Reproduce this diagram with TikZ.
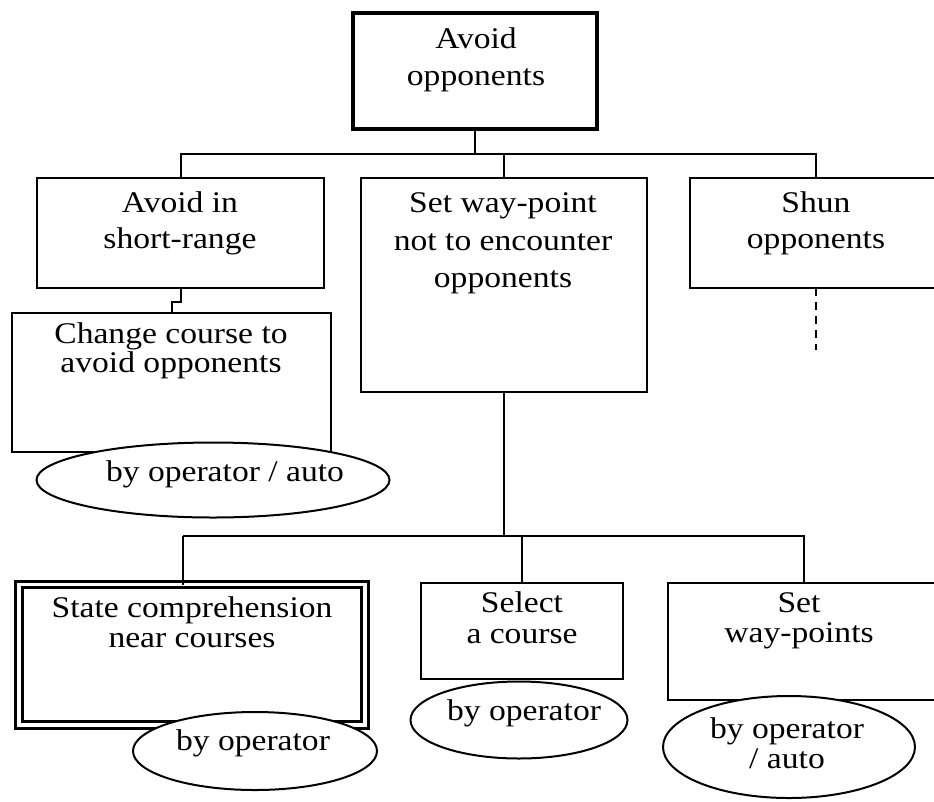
\documentclass[tikz,border=0pt]{standalone}
\usepackage{fontspec}
\setmainfont[FakeStretch=1.12]{Liberation Serif}
\usetikzlibrary{shapes.geometric}
\begin{document}
\begin{tikzpicture}[x=1pt,y=-1pt,
  box/.style={draw, line width=2pt, inner sep=0pt, outer sep=0pt, anchor=north west, fill=white},
  oval/.style={ellipse, draw, line width=2pt, fill=white, inner sep=0pt, outer sep=0pt},
  txt/.style={anchor=base, inner sep=0pt, font=\fontsize{30}{37}\selectfont},
  link/.style={line width=2pt}]
\useasboundingbox (0,0) rectangle (934,801);

% boxes
\node[box, line width=4.5pt, minimum width=244pt, minimum height=116pt] (top) at (353,13) {};
\node[box, minimum width=287pt, minimum height=110pt] (short) at (37,178) {};
\node[box, minimum width=286pt, minimum height=214pt] (way) at (361,178) {};
\node[box, minimum width=252pt, minimum height=110pt] (shun) at (690,178) {};
\node[box, minimum width=319pt, minimum height=139pt] (change) at (12,313) {};
\node[box, line width=3pt, double=white, double distance=3.3pt, minimum width=346pt, minimum height=140.5pt] (state) at (19,584.5) {};
\node[box, minimum width=202pt, minimum height=96pt] (sel) at (421,583) {};
\node[box, minimum width=272pt, minimum height=117pt] (wp) at (668,583) {};

% connectors
\coordinate (bus1) at (0,154);
\coordinate (bus2) at (183,536);
\draw[link] (top.south) -- (top.south |- bus1);
\draw[link] (short.north) -- (short.north |- bus1) -| (shun.north);
\draw[link] (way.north) -- (way.north |- bus1);
\draw[link] (short.south) -- ++(0,14) -| (change.north);
\draw[link, dash pattern=on 8pt off 6pt] (shun.south) -- ++(0,62);
\draw[link] (way.south) -- (way.south |- bus2);
\draw[link] (bus2) -- (bus2 |- state.north);
\draw[link] (bus2) -| (wp.north);
\draw[link] (sel.north) -- (sel.north |- bus2);

% ovals
\node[oval, minimum width=353pt, minimum height=75pt] (e1) at (213,480) {};
\node[oval, minimum width=244pt, minimum height=78pt] (e2) at (255,751) {};
\node[oval, minimum width=217pt, minimum height=77pt] (e3) at (519,720) {};
\node[oval, minimum width=252pt, minimum height=102pt] (e4) at (789,747) {};

% texts
\node[txt] (t1a) at (476,48) {Avoid};
\node[txt] (t1b) at (476,85) {opponents};
\node[txt] (t2a) at (180,212) {Avoid in};
\node[txt] (t2b) at (180,248) {short-range};
\node[txt] (t3a) at (503,212) {Set way-point};
\node[txt] (t3b) at (503,250) {not to encounter};
\node[txt] (t3c) at (503,287) {opponents};
\node[txt] (t4a) at (816,212) {Shun};
\node[txt] (t4b) at (816,248) {opponents};
\node[txt] (t5a) at (171,343) {Change course to};
\node[txt] (t5b) at (171,372) {avoid opponents};
\node[txt] (t6) at (225,481) {by operator / auto};
\node[txt] (t7a) at (192,617) {State comprehension};
\node[txt] (t7b) at (192,647) {near courses};
\node[txt] (t8) at (253,750) {by operator};
\node[txt] (t9a) at (522,612) {Select};
\node[txt] (t9b) at (522,643) {a course};
\node[txt] (t10) at (524,720) {by operator};
\node[txt] (t11a) at (799,612) {Set};
\node[txt] (t11b) at (799,642) {way-points};
\node[txt] (t12a) at (787,738) {by operator};
\node[txt] (t12b) at (787,768) {/ auto};
\end{tikzpicture}
\end{document}
